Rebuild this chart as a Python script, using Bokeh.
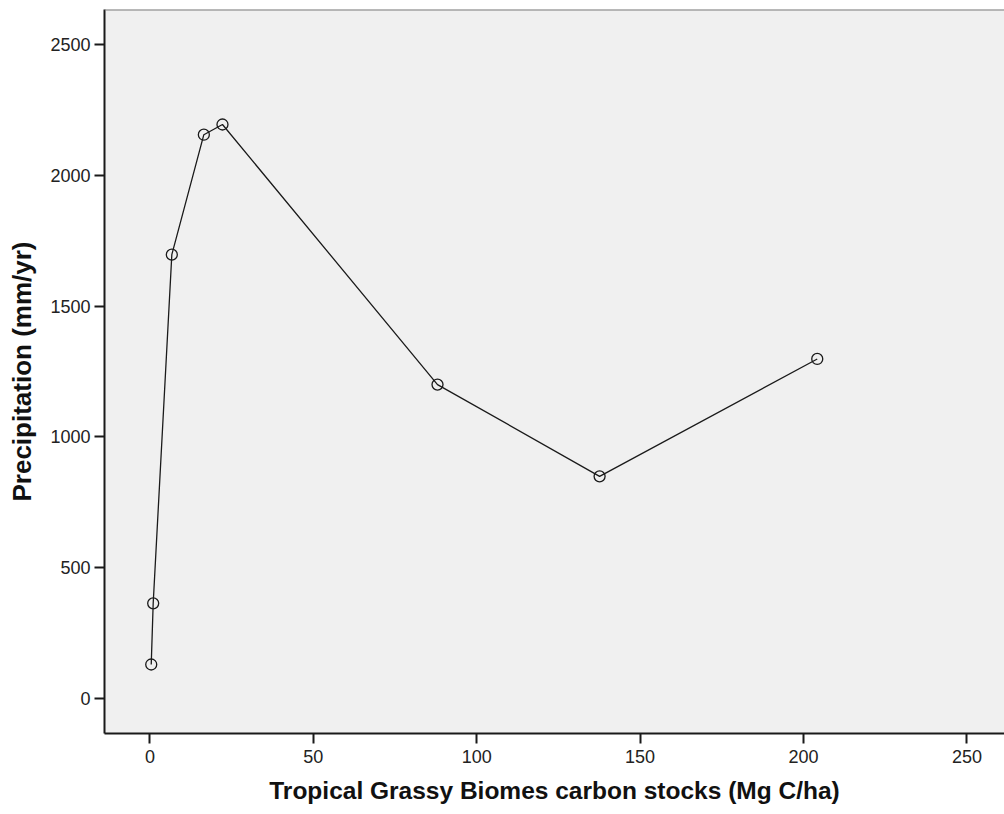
from bokeh.plotting import figure
from bokeh.models import Range1d, Span, FixedTicker
from bokeh.embed import file_html
from bokeh.resources import INLINE

# Data
carbon = [0.4, 1.0, 6.7, 16.5, 22.2, 88.0, 137.6, 204.2]
precip = [129, 363, 1697, 2156, 2195, 1200, 849, 1298]
x_ticks = [0, 50, 100, 150, 200, 250]
y_ticks = [0, 500, 1000, 1500, 2000, 2500]

p = figure(width=1004, height=814, output_backend="svg", toolbar_location=None,
           x_range=Range1d(-13.9, 261.5), y_range=Range1d(-135, 2635),
           min_border_left=104, min_border_right=0, min_border_top=9, min_border_bottom=81)

p.background_fill_color = "#F0F0F0"
p.border_fill_color = "white"
p.outline_line_color = None
p.grid.visible = False

p.add_layout(Span(location=2635, dimension="width", line_color="#7a7a7a", line_width=2))

p.line(carbon, precip, line_color="#1a1a1a", line_width=1.3)
p.scatter(carbon, precip, size=11, marker="circle", fill_color=None,
          line_color="#1a1a1a", line_width=1.3)

for ax in (p.xaxis[0], p.yaxis[0]):
    ax.axis_line_color = "#1a1a1a"
    ax.axis_line_width = 2
    ax.major_tick_line_color = "#1a1a1a"
    ax.major_tick_line_width = 2
    ax.major_tick_out = 10
    ax.major_tick_in = 0
    ax.minor_tick_line_color = None
    ax.major_label_text_font = "Liberation Sans"
    ax.major_label_text_font_size = "18px"
    ax.major_label_text_color = "#222222"
    ax.axis_label_text_font = "Liberation Sans"
    ax.axis_label_text_font_style = "bold"
    ax.axis_label_text_color = "#111111"

p.xaxis[0].axis_label_text_font_size = "24.5px"
p.yaxis[0].axis_label_text_font_size = "26px"
p.xaxis[0].ticker = FixedTicker(ticks=x_ticks)
p.yaxis[0].ticker = FixedTicker(ticks=y_ticks)
p.xaxis[0].axis_label = "Tropical Grassy Biomes carbon stocks (Mg C/ha)"
p.yaxis[0].axis_label = "Precipitation (mm/yr)"
p.xaxis[0].major_label_standoff = 6
p.yaxis[0].major_label_standoff = 4
p.yaxis[0].major_label_orientation = "horizontal"
p.xaxis[0].axis_label_standoff = 11
p.yaxis[0].axis_label_standoff = 10

open("out.html", "w").write(file_html(p, INLINE))
